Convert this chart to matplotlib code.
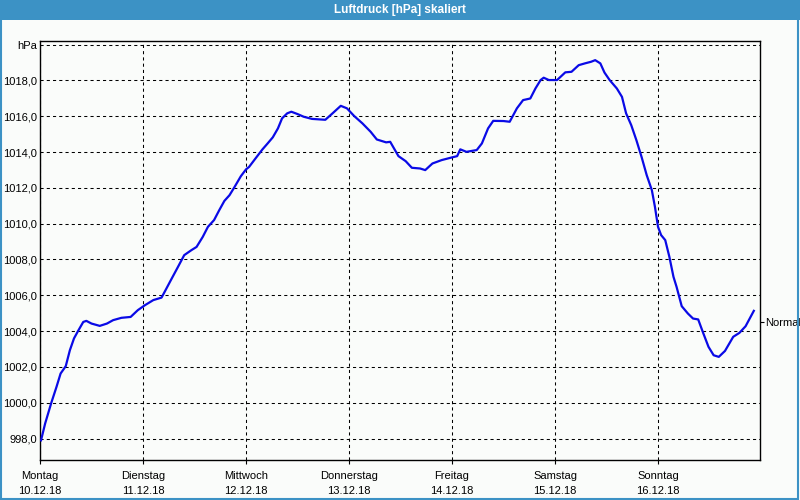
import matplotlib
matplotlib.use("Agg")
import matplotlib.pyplot as plt
from matplotlib.patches import Rectangle

plt.rcParams['font.family'] = ['Liberation Sans', 'DejaVu Sans']

# Zeit in Tagen ab Montag 00:00, Luftdruck in hPa
days = [0.01, 0.05, 0.11, 0.16, 0.20, 0.25, 0.29, 0.33, 0.37, 0.42, 0.45, 0.50,
        0.58, 0.65, 0.71, 0.79, 0.88, 0.95, 1.02, 1.10, 1.18, 1.21, 1.27, 1.34,
        1.40, 1.47, 1.52, 1.58, 1.63, 1.69, 1.74, 1.79, 1.84, 1.89, 1.95, 2.00,
        2.03, 2.10, 2.16, 2.21, 2.26, 2.31, 2.35, 2.40, 2.44, 2.50, 2.56, 2.64,
        2.77, 2.84, 2.92, 2.98, 3.05, 3.13, 3.21, 3.27, 3.36, 3.40, 3.48, 3.55,
        3.61, 3.69, 3.74, 3.81, 3.90, 4.00, 4.05, 4.08, 4.14, 4.24, 4.29, 4.35,
        4.40, 4.50, 4.56, 4.63, 4.69, 4.76, 4.81, 4.86, 4.89, 4.94, 5.02, 5.10,
        5.16, 5.23, 5.29, 5.35, 5.39, 5.44, 5.48, 5.53, 5.60, 5.65, 5.69, 5.74,
        5.79, 5.84, 5.89, 5.94, 5.97, 6.00, 6.03, 6.07, 6.11, 6.15, 6.18, 6.23,
        6.29, 6.34, 6.39, 6.44, 6.49, 6.54, 6.59, 6.65, 6.73, 6.79, 6.85, 6.93]
pressure = [997.9, 998.84, 1000.0, 1000.88, 1001.63, 1002.04, 1002.93, 1003.59,
            1004.01, 1004.51, 1004.57, 1004.42, 1004.29, 1004.42, 1004.61, 1004.74,
            1004.79, 1005.17, 1005.45, 1005.73, 1005.87, 1006.19, 1006.84, 1007.59,
            1008.24, 1008.52, 1008.70, 1009.26, 1009.82, 1010.20, 1010.75, 1011.27,
            1011.59, 1012.06, 1012.65, 1013.03, 1013.17, 1013.70, 1014.15, 1014.48,
            1014.82, 1015.32, 1015.88, 1016.16, 1016.25, 1016.12, 1015.97, 1015.85,
            1015.80, 1016.16, 1016.58, 1016.44, 1016.01, 1015.60, 1015.13, 1014.70,
            1014.54, 1014.57, 1013.77, 1013.49, 1013.12, 1013.08, 1012.99, 1013.36,
            1013.55, 1013.70, 1013.77, 1014.15, 1014.01, 1014.11, 1014.48, 1015.32,
            1015.74, 1015.73, 1015.69, 1016.44, 1016.90, 1016.99, 1017.55, 1018.02,
            1018.15, 1018.02, 1018.02, 1018.45, 1018.48, 1018.85, 1018.95, 1019.04,
            1019.13, 1018.95, 1018.44, 1018.02, 1017.55, 1017.08, 1016.16, 1015.50,
            1014.66, 1013.73, 1012.71, 1011.87, 1010.94, 1009.82, 1009.36, 1009.08,
            1008.15, 1007.03, 1006.47, 1005.39, 1004.98, 1004.70, 1004.65, 1003.87,
            1003.12, 1002.65, 1002.56, 1002.89, 1003.68, 1003.90, 1004.27, 1005.13]

day_names = ["Montag", "Dienstag", "Mittwoch", "Donnerstag", "Freitag", "Samstag", "Sonntag"]
day_dates = ["10.12.18", "11.12.18", "12.12.18", "13.12.18", "14.12.18", "15.12.18", "16.12.18"]
y_ticks = [998, 1000, 1002, 1004, 1006, 1008, 1010, 1012, 1014, 1016, 1018, 1020]
normal_value = 1004.5
title = "Luftdruck [hPa] skaliert"

bg = "#fafcfa"
blue = "#3c92c5"

fig = plt.figure(figsize=(8, 5), dpi=100, facecolor=bg)

# Titelleiste und Rahmen
fig.add_artist(Rectangle((0, 0.96), 1, 0.04, transform=fig.transFigure,
                         facecolor=blue, edgecolor="none"))
fig.add_artist(Rectangle((0.001, 0.002), 0.997, 0.996, transform=fig.transFigure,
                         facecolor="none", edgecolor=blue, linewidth=1.5))
fig.text(0.5, 0.979, title, color="white", fontsize=8.5, fontweight="bold",
         ha="center", va="center")

ax = fig.add_axes([0.05, 0.08, 0.90, 0.838])
ax.set_facecolor(bg)
ax.plot(days, pressure, color="#0a0ae6", linewidth=1.6, zorder=3)

ax.set_xlim(0, 6.99)
ax.set_ylim(996.8, 1020.2)

ax.set_yticks(y_ticks)
ax.set_yticklabels([f"{v},0" for v in y_ticks[:-1]] + ["hPa"], fontsize=8)
ax.set_xticks(range(len(day_names)))
ax.set_xticklabels([f"{n}\n{d}" for n, d in zip(day_names, day_dates)],
                   fontsize=8, linespacing=1.6)

ax.tick_params(axis="y", length=0, pad=2)
ax.tick_params(axis="x", length=3, width=0.8, direction="out", pad=5)
ax.grid(True, color="black", linestyle=(0, (3, 3)), linewidth=0.75)

for sp in ax.spines.values():
    sp.set_color("black")
    sp.set_linewidth(1.0)

ax2 = ax.twinx()
ax2.set_ylim(ax.get_ylim())
ax2.set_yticks([normal_value])
ax2.set_yticklabels(["Normal"], fontsize=8)
ax2.tick_params(axis="y", length=3, width=0.8, pad=1)
for sp in ax2.spines.values():
    sp.set_visible(False)

fig.savefig("out.png", dpi=100, facecolor=bg)
